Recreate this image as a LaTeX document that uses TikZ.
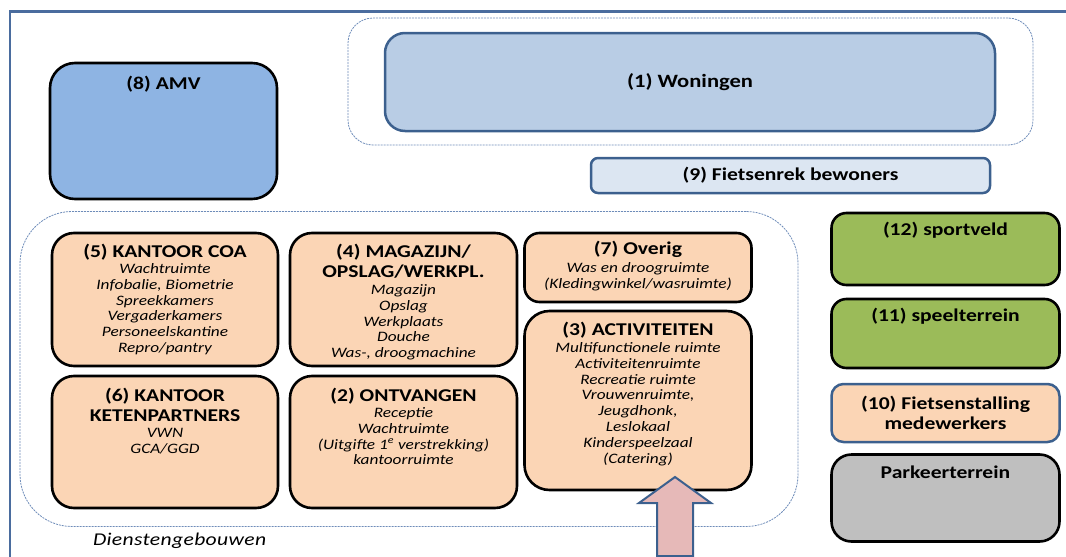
\documentclass[tikz,border=0pt]{standalone}
\usepackage{fontspec}
\setmainfont{Carlito}[FakeStretch=1.2]
\usetikzlibrary{positioning}
\definecolor{frame}{RGB}{74,108,158}
\definecolor{edge}{RGB}{60,96,142}
\definecolor{dash}{RGB}{110,140,185}
\definecolor{peach}{RGB}{251,213,181}
\definecolor{amv}{RGB}{142,180,227}
\definecolor{won}{RGB}{185,205,229}
\definecolor{rek}{RGB}{220,230,242}
\definecolor{grass}{RGB}{155,187,89}
\definecolor{park}{RGB}{191,191,191}
\definecolor{pijl}{RGB}{230,185,184}

\begin{document}
\begin{tikzpicture}[x=1pt,y=-1pt]
\tikzstyle{every node}=[inner sep=0pt, outer sep=0pt]
\tikzstyle{room}=[draw=black, line width=2.6pt, fill=peach, rounded corners=22pt]
\tikzstyle{blue}=[draw=edge, line width=2.5pt]
\tikzstyle{group}=[draw=dash, line width=0.8pt, dash pattern=on 2pt off 1pt]
\tikzstyle{title}=[font=\fontsize{18}{20.5}\selectfont\bfseries, align=center, anchor=north]
\tikzstyle{body}=[font=\fontsize{14.4}{15.8}\selectfont\itshape, align=center, anchor=north]
\useasboundingbox (0,0) rectangle (1066,557);
\draw[frame, line width=2.8pt] (10,570) -- (10,11.5) -- (1080,11.5);

\draw (690.5,81.5) node (g1) [group, minimum width=685pt, minimum height=127pt, rounded corners=25pt] {};
\draw (690,82) node (r1) [blue, fill=won, minimum width=610pt, minimum height=98pt, rounded corners=20pt, font=\fontsize{18.8}{21}\selectfont\bfseries] {(1) Woningen};
\draw (163.5,131) node (r8) [room, fill=amv, minimum width=227pt, minimum height=136pt, rounded corners=25pt] {};
\draw (790.5,175.5) node (r9) [blue, fill=rek, minimum width=399pt, minimum height=35pt, rounded corners=7pt, font=\fontsize{18}{20.5}\selectfont\bfseries] {(9) Fietsenrek bewoners};

\draw (409,369) node (g2) [group, minimum width=778pt, minimum height=315pt, rounded corners=52pt] {};
\draw (165,299.5) node (r5) [room, minimum width=226pt, minimum height=133pt] {};
\draw (403.5,299.5) node (r4) [room, minimum width=227pt, minimum height=133pt] {};
\draw (638,267.5) node (r7) [room, minimum width=227pt, minimum height=69pt, rounded corners=15pt] {};
\draw (638,400.5) node (r3) [room, minimum width=227pt, minimum height=179pt, rounded corners=25pt] {};
\draw (165,442) node (r6) [room, minimum width=226pt, minimum height=132pt] {};
\draw (403.5,442) node (r2) [room, minimum width=227pt, minimum height=132pt] {};

\draw (945.5,249) node (r12) [room, fill=grass, minimum width=228pt, minimum height=72pt, rounded corners=15pt] {};
\draw (945.5,333.5) node (r11) [room, fill=grass, minimum width=228pt, minimum height=69pt, rounded corners=15pt] {};
\draw (945.5,413) node (r10) [blue, fill=peach, minimum width=228pt, minimum height=58pt, rounded corners=12pt] {};
\draw (945.5,498) node (rp) [room, fill=park, minimum width=228pt, minimum height=87pt, rounded corners=20pt] {};

\node (t8) [title, below=13pt of r8.north] {(8) AMV};
\node (t5) [title, below=11pt of r5.north] {(5) KANTOOR COA};
\node (b5) [body, below=30.5pt of r5.north] {Wachtruimte\\Infobalie, Biometrie\\Spreekkamers\\Vergaderkamers\\Personeelskantine\\Repro/pantry};
\node (t4) [title, below=11pt of r4.north] {(4) MAGAZIJN/\\OPSLAG/WERKPL.};
\node (b4) [body, below=51.5pt of r4.north] {Magazijn\\Opslag\\Werkplaats\\Douche\\Was-, droogmachine};
\node (t7) [title, below=8pt of r7.north] {(7) Overig};
\node (b7) [body, below=29.5pt of r7.north] {Was en droogruimte\\(Kledingwinkel/wasruimte)};
\node (t3) [title, below=11pt of r3.north] {(3) ACTIVITEITEN};
\node (b3) [body, below=31.5pt of r3.north] {Multifunctionele ruimte\\Activiteitenruimte\\Recreatie ruimte\\Vrouwenruimte,\\Jeugdhonk,\\Leslokaal\\Kinderspeelzaal\\(Catering)};
\node (t6) [title, below=12pt of r6.north] {(6) KANTOOR\\KETENPARTNERS};
\node (b6) [body, below=52.5pt of r6.north] {VWN\\GCA/GGD};
\node (t2) [title, below=12pt of r2.north] {(2) ONTVANGEN};
\node (b2) [body, below=31.5pt of r2.north] {Receptie\\Wachtruimte\\(Uitgifte 1\textsuperscript{e} verstrekking)\\kantoorruimte};
\node (t12) [title, below=9pt of r12.north] {(12) sportveld};
\node (t11) [title, below=9pt of r11.north] {(11) speelterrein};
\node (t10) [title, below=12pt of r10.north] {(10) Fietsenstalling\\medewerkers};
\node (tp) [title, below=11pt of rp.north] {Parkeerterrein};
\node (dg) [font=\fontsize{18}{20}\selectfont\itshape\addfontfeature{LetterSpace=2}, anchor=west] at (93,541) {Dienstengebouwen};

\draw[edge, fill=pijl, line width=2pt, line join=miter] (657,556) -- (657,503) -- (639,503) -- (675,477) -- (711,503) -- (693,503) -- (693,556) -- cycle;
\end{tikzpicture}
\end{document}
